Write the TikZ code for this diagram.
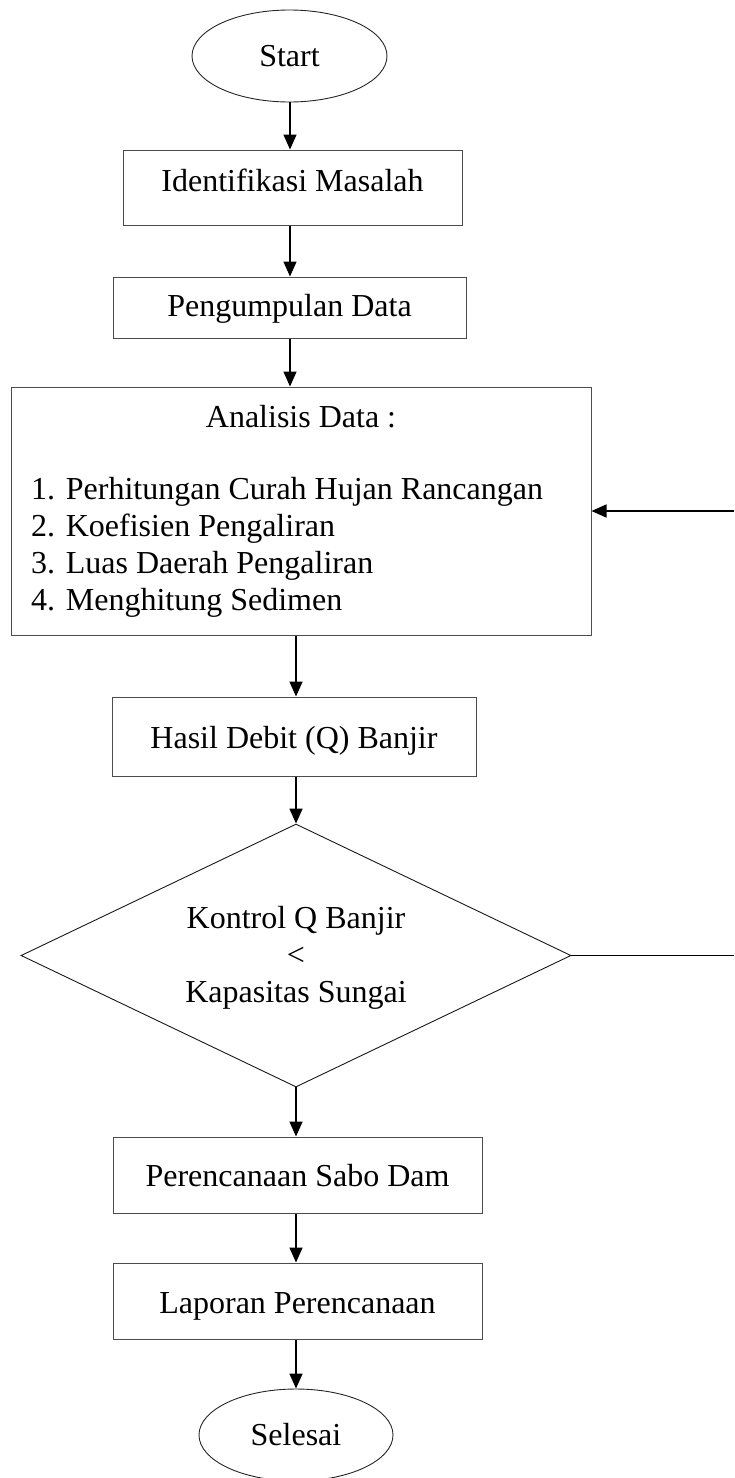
\documentclass[tikz,border=0pt]{standalone}
\usepackage{fontspec}
\setmainfont{Liberation Serif}
\usetikzlibrary{shapes.geometric,arrows.meta}
\begin{document}
\begin{tikzpicture}[x=1pt,y=-1pt,
  font=\fontsize{32}{37}\selectfont,
  box/.style={draw=black!70, line width=1pt, rectangle, inner xsep=0pt, inner ysep=0pt, align=center},
  term/.style={draw=black!85, ellipse, line width=0.9pt, inner sep=0pt, minimum height=92pt},
  arr/.style={line width=1.6pt, -{Triangle[length=15pt,width=13pt]}},
  txt/.style={inner sep=0pt, anchor=base},
  lst/.style={inner sep=0pt, anchor=base west},
]
\useasboundingbox (0,0) rectangle (734,1478);
\coordinate (axA) at (290,0);
\coordinate (edge) at (734,0);

\node[term, minimum width=195pt] (start) at (289.5,56) {Start};
\node[box, minimum width=339pt, text height=41pt, text depth=34pt] (ident) at (292.5,187.5) {Identifikasi Masalah};
\node[box, minimum width=353pt, text height=39pt, text depth=22pt] (peng) at (289.5,307.5) {Pengumpulan Data};

\node[box, minimum width=580pt, minimum height=248pt] (analisis) at (301,511) {};
\node[txt] (antitle) at (301,427) {Analisis Data :};
\node[lst] (l1) at (31,499) {1. Perhitungan Curah Hujan Rancangan};
\node[lst] (l2) at (31,536) {2. Koefisien Pengaliran};
\node[lst] (l3) at (31,573) {3. Luas Daerah Pengaliran};
\node[lst] (l4) at (31,610) {4. Menghitung Sedimen};

\node[box, minimum width=364pt, text height=51pt, text depth=28pt] (hasil) at (294,736.5) {Hasil Debit (Q) Banjir};

\node[draw=black!90, diamond, line width=0.9pt, inner sep=0pt, minimum width=550pt, minimum height=263pt] (dia) at (296,955.5) {};
\node[txt] (k1) at (296,928) {Kontrol Q Banjir};
\node[txt] (k2) at (296,965) {<};
\node[txt] (k3) at (296,1002) {Kapasitas Sungai};

\node[box, minimum width=369pt, text height=49pt, text depth=27pt] (peren) at (297.5,1175) {Perencanaan Sabo Dam};
\node[box, minimum width=369pt, text height=50pt, text depth=26pt] (lap) at (297.5,1301) {Laporan Perencanaan};
\node[term, minimum width=194pt] (sel) at (296,1435) {Selesai};

\draw[arr] (start.south -| axA) -- (ident.north -| axA);
\draw[arr] (ident.south -| axA) -- (peng.north -| axA);
\draw[arr] (peng.south -| axA) -- (analisis.north -| axA);
\draw[arr] (analisis.south -| dia.north) -- (hasil.north -| dia.north);
\draw[arr] (hasil.south -| dia.north) -- (dia.north);
\draw[arr] (dia.south) -- (peren.north -| dia.south);
\draw[arr] (peren.south -| dia.south) -- (lap.north -| dia.south);
\draw[arr] (lap.south -| dia.south) -- (sel.north);

\draw[line width=1.6pt] (dia.east) -- (dia.east -| edge);
\draw[arr] (analisis.east -| edge) -- (analisis.east);
\end{tikzpicture}
\end{document}
